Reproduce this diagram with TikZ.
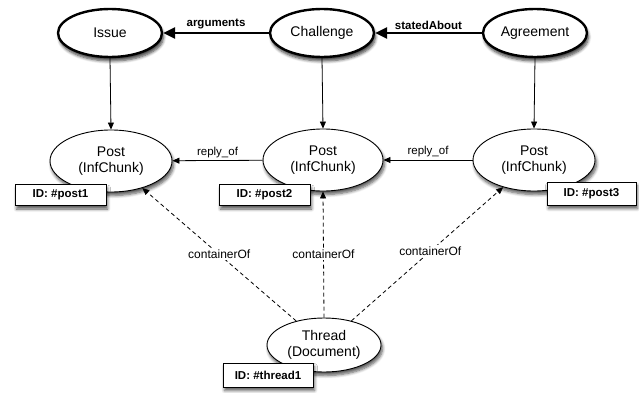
\documentclass[tikz,border=0pt]{standalone}
\usepackage{fontspec}
\setmainfont{Liberation Sans}
\usetikzlibrary{shapes.geometric,arrows.meta,shadows,shadows.blur}
\begin{document}
\begin{tikzpicture}[x=1pt,y=-1pt,
  topnode/.style={ellipse,draw,line width=2.4pt,fill=white,inner sep=0pt,
    minimum width=104pt,minimum height=48pt,font=\fontsize{14}{16}\selectfont,
    blur shadow={shadow xshift=1.5pt,shadow yshift=-4pt,shadow blur steps=6,shadow blur radius=3pt,shadow opacity=75}},
  postnode/.style={ellipse,draw,line width=0.9pt,fill=white,inner sep=0pt,align=center,
    minimum width=122pt,minimum height=62pt,font=\fontsize{14}{16.5}\selectfont,
    blur shadow={shadow xshift=1.5pt,shadow yshift=-3.5pt,shadow blur steps=6,shadow blur radius=3pt,shadow opacity=65}},
  idbox/.style={rectangle,draw,line width=0.9pt,fill=white,inner sep=0pt,
    minimum width=91pt,minimum height=21pt,font=\bfseries\fontsize{11.5}{13}\selectfont,
    blur shadow={shadow xshift=1.5pt,shadow yshift=-3.5pt,shadow blur steps=5,shadow blur radius=3pt,shadow opacity=65}},
  bigarrow/.style={line width=2.4pt,-{Triangle[length=12pt,width=11pt]}},
  thinarrow/.style={line width=0.8pt,-{Triangle[length=7pt,width=6pt]}},
  dasharrow/.style={line width=0.8pt,dash pattern=on 4pt off 3pt,-{Triangle[length=7pt,width=6pt]}},
  boldlabel/.style={font=\bfseries\fontsize{11.5}{13}\selectfont,inner sep=1pt},
  plainlabel/.style={font=\fontsize{11.5}{13}\selectfont,inner sep=1pt},
  contlabel/.style={font=\fontsize{12}{14}\selectfont,fill=white,inner sep=1.5pt}
]
\useasboundingbox (0,0) rectangle (639,393);

% top concepts
\node[topnode] (issue) at (110,33) {Issue};
\node[topnode] (challenge) at (322,33) {Challenge};
\node[topnode] (agreement) at (535,33) {Agreement};

% posts
\node[postnode] (post1) at (111,161) {Post\\(InfChunk)};
\node[postnode,minimum width=120pt] (post2) at (323,160) {Post\\(InfChunk)};
\node[postnode] (post3) at (534,160) {Post\\(InfChunk)};

% thread
\node[postnode,minimum width=114pt,minimum height=54pt] (thread) at (324,345) {Thread\\(Document)};

% ID boxes
\node[idbox] (id1) at (60.5,195) {ID: \#post1};
\node[idbox] (id2) at (264.5,195) {ID: \#post2};
\node[idbox,minimum width=89pt,minimum height=23pt] (id3) at (591.5,193.5) {ID: \#post3};
\node[idbox,minimum width=90pt,minimum height=24pt] (idt) at (268,375) {ID: \#thread1};

% top arrows
\draw[bigarrow] (challenge) -- node[boldlabel,above=1.5pt] {arguments} (issue);
\draw[bigarrow] (agreement) -- node[boldlabel,above=1.5pt] {statedAbout} (challenge);

% vertical arrows
\draw[thinarrow] (issue.south) -- (post1.north);
\draw[thinarrow] (challenge.south) -- (post2.north);
\draw[thinarrow] (agreement.south) -- (post3.north);

% reply_of
\draw[thinarrow] (post2) -- node[plainlabel,above=1.5pt] {reply\_of} (post1);
\draw[thinarrow] (post3) -- node[plainlabel,above=1.5pt] {reply\_of} (post2);

% containerOf
\draw[dasharrow] (thread) -- node[contlabel,pos=0.5] {containerOf} (post1);
\draw[dasharrow] (thread.north) -- node[contlabel,pos=0.5] {containerOf} (post2.south);
\draw[dasharrow] (thread) -- node[contlabel,pos=0.52] {containerOf} (post3);
\end{tikzpicture}
\end{document}
